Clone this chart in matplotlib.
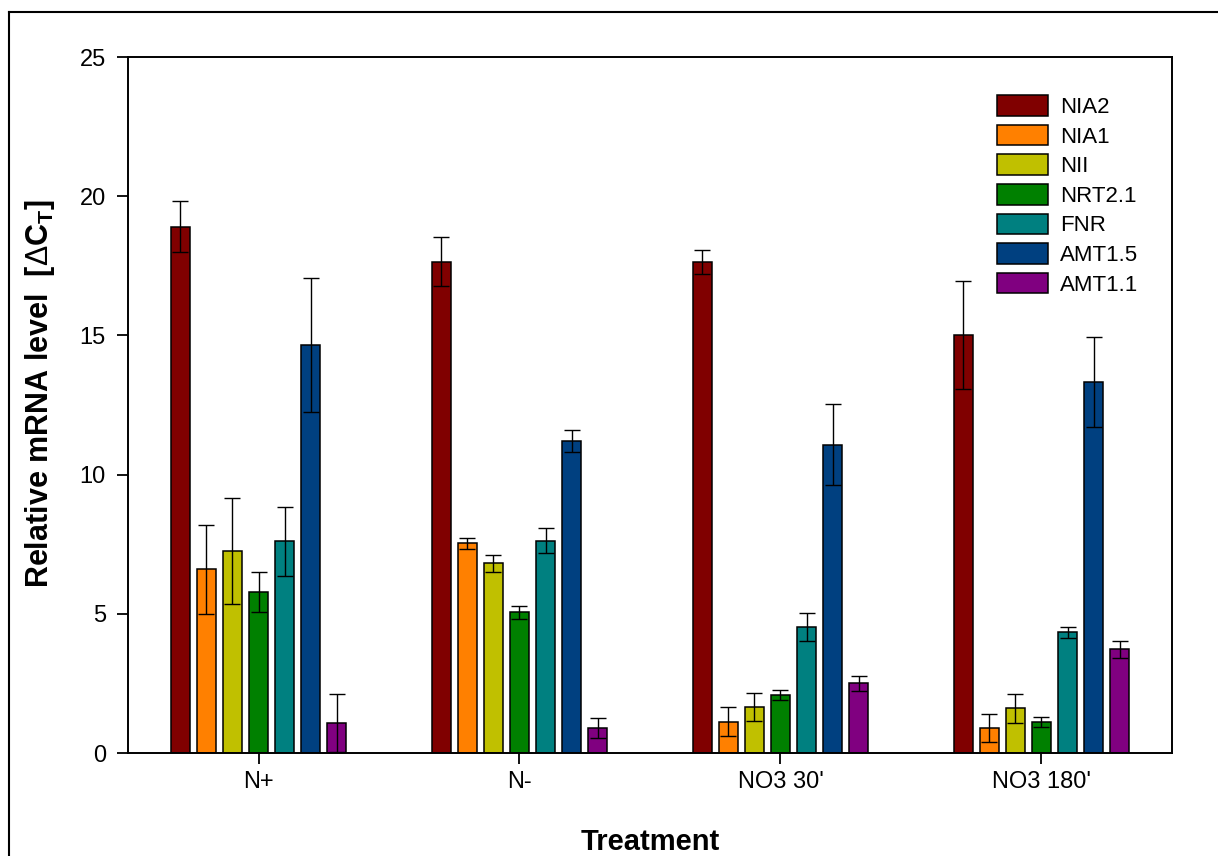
import matplotlib
matplotlib.use("Agg")
import matplotlib.pyplot as plt
import numpy as np
from matplotlib.lines import Line2D

plt.rcParams['font.family'] = ['Liberation Sans', 'DejaVu Sans']
plt.rcParams['mathtext.fontset'] = 'custom'
plt.rcParams['mathtext.rm'] = 'Liberation Sans'
plt.rcParams['mathtext.bf'] = 'Liberation Sans:bold'

# Tratamentos e genes
tratamentos = ["N+", "N-", "NO3 30'", "NO3 180'"]
genes = ["NIA2", "NIA1", "NII", "NRT2.1", "FNR", "AMT1.5", "AMT1.1"]
cores = ["#800000", "#FF8000", "#C0C000", "#008000", "#008080", "#004080", "#800080"]

# Nivel relativo de mRNA (delta Ct) por gene, nos quatro tratamentos
nia2 = [18.9, 17.65, 17.65, 15.0]
nia1 = [6.6, 7.53, 1.12, 0.9]
nii = [7.27, 6.81, 1.65, 1.6]
nrt21 = [5.79, 5.05, 2.08, 1.12]
fnr = [7.6, 7.62, 4.52, 4.33]
amt15 = [14.66, 11.21, 11.07, 13.33]
amt11 = [1.08, 0.9, 2.5, 3.72]

# Erro padrao
nia2_err = [0.92, 0.88, 0.43, 1.94]
nia1_err = [1.6, 0.2, 0.52, 0.5]
nii_err = [1.9, 0.31, 0.5, 0.53]
nrt21_err = [0.72, 0.22, 0.17, 0.18]
fnr_err = [1.23, 0.45, 0.51, 0.2]
amt15_err = [2.4, 0.38, 1.46, 1.61]
amt11_err = [1.03, 0.37, 0.26, 0.29]

valores = [nia2, nia1, nii, nrt21, fnr, amt15, amt11]
erros = [nia2_err, nia1_err, nii_err, nrt21_err, fnr_err, amt15_err, amt11_err]

fig = plt.figure(figsize=(12.18, 8.56), dpi=100)
ax = fig.add_axes([0.1051, 0.1203, 0.8571, 0.8131])

x = np.arange(len(tratamentos))
passo = 0.1
largura = 0.072
for i, (gene, cor) in enumerate(zip(genes, cores)):
    ax.bar(x + (i - 3) * passo, valores[i], largura, color=cor, edgecolor='black',
           linewidth=1.1, label=gene, zorder=2,
           yerr=erros[i], capsize=5.5,
           error_kw=dict(ecolor='black', elinewidth=1.0, capthick=1.0, zorder=3))

ax.set_xlim(-0.5, 3.5)
ax.set_ylim(0, 25)
ax.set_yticks([0, 5, 10, 15, 20, 25])
ax.set_xticks(x)
ax.set_xticklabels(tratamentos)
ax.tick_params(axis='both', direction='out', labelsize=17, width=1.3, color='black')
ax.tick_params(axis='y', length=8, pad=8)
ax.tick_params(axis='x', length=8, pad=5)
for lado in ax.spines.values():
    lado.set_linewidth(1.4)

ax.set_xlabel('Treatment', fontsize=21, fontweight='bold', labelpad=25)
ax.set_ylabel(r'Relative mRNA level  [$\Delta\mathbf{C_T}$]', fontsize=22,
              fontweight='bold')
ax.yaxis.set_label_coords(-0.0676, 0.516)

ax.legend(loc='upper left', bbox_to_anchor=(0.832, 0.945), frameon=False,
          fontsize=16, handlelength=2.3, handleheight=1.05, labelspacing=0.3,
          handletextpad=0.55, borderaxespad=0, borderpad=0)

# Moldura da figura
fig.add_artist(Line2D([9 / 1218, 9 / 1218], [0, 1 - 12 / 856], transform=fig.transFigure,
                      color='black', linewidth=1.5))
fig.add_artist(Line2D([9 / 1218, 1], [1 - 12 / 856, 1 - 12 / 856], transform=fig.transFigure,
                      color='black', linewidth=1.5))

fig.savefig('out.png', dpi=100)
